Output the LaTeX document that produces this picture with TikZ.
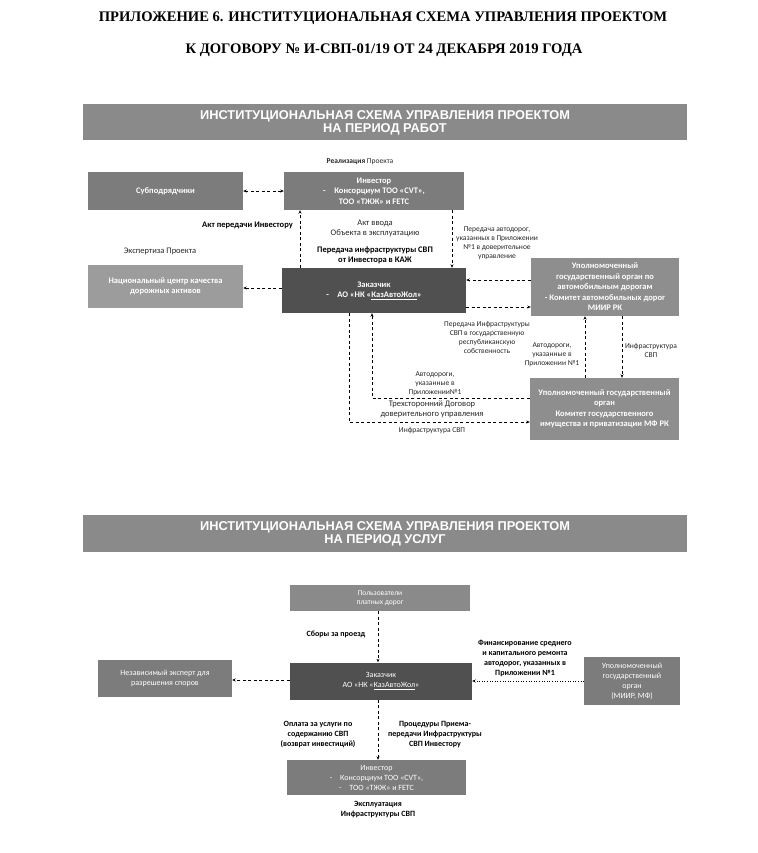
\documentclass[tikz,border=0pt]{standalone}
\usepackage{fontspec}
\setmainfont{Carlito}
\newfontfamily\headfont{Liberation Sans}
\newfontfamily\titlefont{Liberation Serif}
\usetikzlibrary{arrows.meta}

\definecolor{gA}{HTML}{7C7C7C}
\definecolor{gL}{HTML}{9C9C9C}
\definecolor{gD}{HTML}{505050}
\definecolor{gM}{HTML}{8E8E8E}
\definecolor{gB}{HTML}{8A8A8A}

\begin{document}
\begin{tikzpicture}[x=1pt, y=-1pt, >={Stealth[length=3.5pt, width=3pt]},
  box/.style = {fill=#1, text=white, align=center, inner sep=0pt, font=\bfseries\fontsize{8.5}{10.5}\selectfont},
  box/.default = gA,
  banner/.style = {fill=gB, text=white, align=center, minimum width=604pt, inner sep=0pt, font=\headfont\bfseries\fontsize{12.8}{13}\selectfont},
  titletext/.style = {inner sep=0pt, font=\titlefont\bfseries\fontsize{14.6}{16}\selectfont},
  note/.style = {align=center, inner sep=0pt, text=black!85, font=\fontsize{7.5}{9}\selectfont},
  rnote/.style = {note, font=\fontsize{8.5}{10}\selectfont},
  bnote/.style = {note, text=black, font=\bfseries\fontsize{8.5}{10}\selectfont},
  snote/.style = {note, text=black, font=\bfseries\fontsize{8}{10}\selectfont},
  link/.style = {line width=0.6pt, dash pattern=on 3pt off 2.5pt, ->}]
\useasboundingbox (0,0) rectangle (757,853);

% header
\node[titletext] (head1) at (383,18) {ПРИЛОЖЕНИЕ 6. ИНСТИТУЦИОНАЛЬНАЯ СХЕМА УПРАВЛЕНИЯ ПРОЕКТОМ};
\node[titletext] (head2) at (384,50) {К ДОГОВОРУ № И-СВП-01/19 ОТ 24 ДЕКАБРЯ 2019 ГОДА};

% period of works
\node[banner, minimum height=36pt] (works) at (385,122.5) {ИНСТИТУЦИОНАЛЬНАЯ СХЕМА УПРАВЛЕНИЯ ПРОЕКТОМ\\НА ПЕРИОД РАБОТ};
\node[box, minimum width=155pt, minimum height=38pt] (sub) at (165.5,191) {Субподрядчики};
\node[box, minimum width=180pt, minimum height=38pt] (inv) at (374,191) {Инвестор\\-\quad Консорциум ТОО «CVT»,\\ТОО «ТЖЖ» и FETC};
\node[box=gL, minimum width=155pt, minimum height=43pt] (nat) at (165.5,286.5) {Национальный центр качества\\дорожных активов};
\node[box=gD, minimum width=184pt, minimum height=45pt] (zak) at (374,290.5) {Заказчик\\-\quad АО «НК «\underline{КазАвтоЖол}»};
\node[box=gM, minimum width=148pt, minimum height=58pt] (miir) at (605,287) {Уполномоченный\\государственный орган по\\автомобильным дорогам\\- Комитет автомобильных дорог\\МИИР РК};
\node[box=gM, minimum width=149pt, minimum height=62pt] (mf) at (604.5,409) {Уполномоченный государственный\\орган\\Комитет государственного\\имущества и приватизации МФ РК};

\draw[link, <->] (sub) -- (inv);
\draw[link] (zak.north -| 300,0) -- (inv.south -| 300,0);
\draw[link] (inv.south -| 452,0) -- (zak.north -| 452,0);
\draw[link] (zak.west |- 0,288) -- (nat.east |- 0,288);
\draw[link] (miir.west |- 0,280) -- (zak.east |- 0,280);
\draw[link] (zak.east |- 0,307) -- (miir.west |- 0,307);
\draw[link] (mf.north -| 585,0) -- (miir.south -| 585,0);
\draw[link] (miir.south -| 622,0) -- (mf.north -| 622,0);
\draw[link] (mf.west |- 0,398) -| (zak.south -| 372,0);
\draw[link] (zak.south -| 349,0) |- (mf.west |- 0,422);

\node[note] (realis) at (360,162) {\textbf{Реализация} Проекта};
\node[bnote, anchor=east] (actinv) at (293,225) {Акт передачи Инвестору};
\node[rnote] (actuse) at (375,228) {Акт ввода\\Объекта в эксплуатацию};
\node[bnote] (tokaz) at (375,255) {Передача инфраструктуры СВП\\от Инвестора в КАЖ};
\node[rnote] (exam) at (160,251) {Экспертиза Проекта};
\node[note] (trust) at (497,243) {Передача автодорог,\\указанных в Приложении\\№1 в доверительное\\управление};
\node[note] (state) at (487,337) {Передача Инфраструктуры\\СВП в государственную\\республиканскую\\собственность};
\node[note] (roadsa) at (552,355) {Автодороги,\\указанные в\\Приложении №1};
\node[note] (infraa) at (651,350) {Инфраструктура\\СВП};
\node[note] (roadsb) at (435,384) {Автодороги,\\указанные в\\Приложении№1};
\node[rnote] (tripart) at (432,409) {Трехсторонний Договор\\доверительного управления};
\node[note] (infrab) at (432,431) {Инфраструктура СВП};

% period of services
\node[banner, minimum height=37pt] (services) at (385,533.5) {ИНСТИТУЦИОНАЛЬНАЯ СХЕМА УПРАВЛЕНИЯ ПРОЕКТОМ\\НА ПЕРИОД УСЛУГ};
\node[box=gB, font=\fontsize{7.5}{9.5}\selectfont, minimum width=180pt, minimum height=26pt] (users) at (380,598) {Пользователи\\платных дорог};
\node[box=gD, font=\fontsize{8}{10}\selectfont, minimum width=182pt, minimum height=37pt] (zakb) at (381,681) {Заказчик\\АО «НК «\underline{КазАвтоЖол}»};
\node[box, font=\fontsize{8}{10}\selectfont, minimum width=134pt, minimum height=37pt] (indep) at (165,678.5) {Независимый эксперт для\\разрешения споров};
\node[box, font=\fontsize{8}{10}\selectfont, minimum width=96pt, minimum height=48pt] (auth) at (632,681) {Уполномоченный\\государственный\\орган\\(МИИР, МФ)};
\node[box, font=\fontsize{8}{10}\selectfont, minimum width=179pt, minimum height=35pt] (invb) at (376.5,777.5) {Инвестор\\-\quad Консорциум ТОО «CVT»,\\-\quad ТОО «ТЖЖ» и FETC};

\draw[link] (users.south -| 378,0) -- (zakb.north -| 378,0);
\draw[link] (zakb.west |- 0,680) -- (indep.east |- 0,680);
\draw[line width=0.6pt, dotted, ->] (auth.west |- 0,681) -- (zakb.east |- 0,681);
\draw[link] (zakb.south -| 378,0) -- (invb.north -| 378,0);

\node[snote] (fees) at (336,634) {Сборы за проезд};
\node[snote] (fund) at (525,658) {Финансирование среднего\\и капитального ремонта\\автодорог, указанных в\\Приложении №1};
\node[snote] (pay) at (318,735) {Оплата за услуги по\\содержанию СВП\\(возврат инвестиций)};
\node[snote] (proc) at (435,735) {Процедуры Приема-\\передачи Инфраструктуры\\СВП Инвестору};
\node[snote] (oper) at (378,810) {Эксплуатация\\Инфраструктуры СВП};
\end{tikzpicture}
\end{document}
